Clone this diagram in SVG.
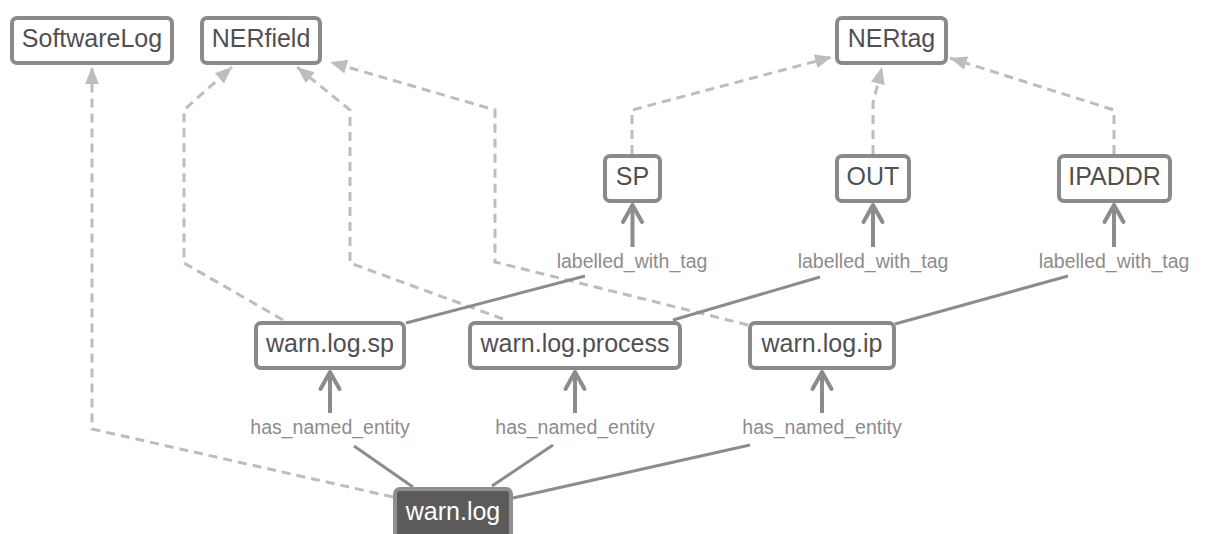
<svg xmlns="http://www.w3.org/2000/svg" width="1205" height="534" viewBox="0 0 1205 534">
<style>
.node rect{fill:#fff;stroke:#8a8a8a;stroke-width:4}
.node text{font-family:"Liberation Sans",Arial,sans-serif;font-size:25px;fill:#505050;text-anchor:middle}
#n-warnlog rect{fill:#5b5b5b;stroke:#8f8f8f}
#n-warnlog text{fill:#fff}
.dash{fill:none;stroke:#bdbdbd;stroke-width:3;stroke-dasharray:9 6;marker-end:url(#tri)}
.solid{fill:none;stroke:#8c8c8c;stroke-width:3}
.arr{fill:none;stroke:#8c8c8c;stroke-width:4;marker-end:url(#chev)}
.lbl{font-family:"Liberation Sans",Arial,sans-serif;font-size:19.5px;fill:#8c8c8c;text-anchor:middle}
</style>
<defs>
<marker id="tri" markerUnits="userSpaceOnUse" markerWidth="18" markerHeight="16" viewBox="0 0 18 16" refX="17" refY="8" orient="auto">
<path d="M0,1 L17,8 L0,15 z" fill="#bdbdbd"/>
</marker>
<marker id="chev" markerUnits="userSpaceOnUse" markerWidth="26" markerHeight="26" viewBox="-2 -2 26 26" refX="18" refY="10" orient="auto" overflow="visible">
<path d="M1,0.5 L18,10 L1,19.5" fill="none" stroke="#8c8c8c" stroke-width="4" stroke-linecap="round" stroke-linejoin="round"/>
</marker>
</defs>
<rect width="1205" height="534" fill="#fff"/>
<g id="connectors">
<path class="dash" d="M393,497 L92,429 L92,67"/>
<path class="dash" d="M283,320 L184,263 L184,110 L232,67"/>
<path class="dash" d="M503,319 L350,263 L350,110 L297,67"/>
<path class="dash" d="M748,325 L495,262 L495,110 L330,62"/>
<path class="dash" d="M632,154 L632,110 L832,57"/>
<path class="dash" d="M873,154 L873,103 L882,67"/>
<path class="dash" d="M1114,154 L1114,110 L950,58"/>
<path class="solid" d="M406,323 L585,276"/>
<path class="solid" d="M673,320 L820,277"/>
<path class="solid" d="M895,324 L1068,276"/>
<path class="solid" d="M413,487 L354,446"/>
<path class="solid" d="M492,486 L553,445"/>
<path class="solid" d="M513,498 L750,445"/>
<path class="arr" d="M632.5,247 L632.5,205"/>
<path class="arr" d="M873,247 L873,205"/>
<path class="arr" d="M1114,247 L1114,205"/>
<path class="arr" d="M330,413 L330,372"/>
<path class="arr" d="M575,413 L575,372"/>
<path class="arr" d="M822,413 L822,372"/>
<text class="lbl" x="632" y="268">labelled_with_tag</text>
<text class="lbl" x="873" y="268">labelled_with_tag</text>
<text class="lbl" x="1114" y="268">labelled_with_tag</text>
<text class="lbl" x="330" y="434">has_named_entity</text>
<text class="lbl" x="575" y="434">has_named_entity</text>
<text class="lbl" x="822" y="434">has_named_entity</text>
</g>
<g id="n-softwarelog" class="node"><rect x="12" y="18" width="160" height="45" rx="5"/><text x="92" y="47">SoftwareLog</text></g>
<g id="n-nerfield" class="node"><rect x="202" y="18" width="118" height="45" rx="5"/><text x="261" y="47">NERfield</text></g>
<g id="n-nertag" class="node"><rect x="837" y="18" width="109" height="45" rx="5"/><text x="891.5" y="47">NERtag</text></g>
<g id="n-sp" class="node"><rect x="605" y="156" width="55" height="45" rx="5"/><text x="632.5" y="185">SP</text></g>
<g id="n-out" class="node"><rect x="837" y="156" width="72" height="45" rx="5"/><text x="873" y="185">OUT</text></g>
<g id="n-ipaddr" class="node"><rect x="1059" y="156" width="111" height="45" rx="5"/><text x="1114.5" y="185">IPADDR</text></g>
<g id="n-warnlogsp" class="node"><rect x="256" y="323" width="148" height="45" rx="5"/><text x="330" y="352">warn.log.sp</text></g>
<g id="n-warnlogprocess" class="node"><rect x="470" y="323" width="210" height="45" rx="5"/><text x="575" y="352">warn.log.process</text></g>
<g id="n-warnlogip" class="node"><rect x="750" y="323" width="144" height="45" rx="5"/><text x="822" y="352">warn.log.ip</text></g>
<g id="n-warnlog" class="node"><rect x="395" y="489" width="116" height="52" rx="5"/><text x="453" y="520">warn.log</text></g>
</svg>
